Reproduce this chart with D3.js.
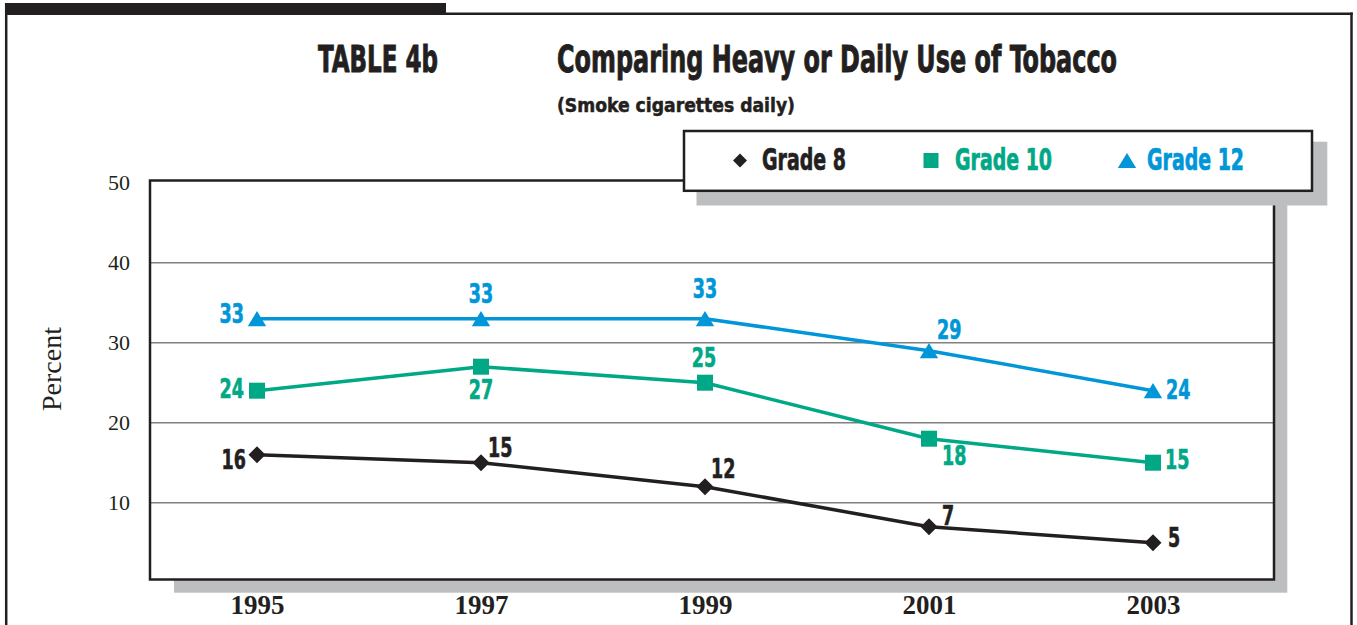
<!DOCTYPE html>
<html>
<head>
<meta charset="utf-8">
<script src="https://cdn.jsdelivr.net/npm/d3@7"></script>
<style>
  html, body { margin: 0; padding: 0; background: #ffffff; }
  svg { display: block; }
  .heavy { font-family: "Liberation Sans Narrow", "DejaVu Sans Condensed", "Roboto", sans-serif; font-weight: bold; }
  .serif { font-family: "Liberation Serif", "DejaVu Serif", serif; }
</style>
</head>
<body>
<svg id="chart" width="1357" height="625"></svg>
<script>
// ---- data ----
const years = ["1995", "1997", "1999", "2001", "2003"];
const grade8 = [16, 15, 12, 7, 5];
const grade10 = [24, 27, 25, 18, 15];
const grade12 = [33, 33, 33, 29, 24];
const seriesNames = ["Grade 8", "Grade 10", "Grade 12"];
const yTicks = [10, 20, 30, 40, 50];

// ---- styling ----
const INK = "#231f20";
const GREEN = "#00a886";
const BLUE = "#0096d8";
const SHADOW = "#bcbec0";
const GRID = "#808080";

const series = [
  { name: seriesNames[0], values: grade8, color: INK, shape: "diamond" },
  { name: seriesNames[1], values: grade10, color: GREEN, shape: "square" },
  { name: seriesNames[2], values: grade12, color: BLUE, shape: "triangle" }
];

// label placement per point: [dx, dy, anchor]
const labelPlacement = [
  [[-11, 14.6, "end"], [7, -6, "start"], [6, -8.7, "start"], [13, -1.7, "start"], [15, 4, "start"]],
  [[-13, 7.3, "end"], [0, 32, "middle"], [-1, -16, "middle"], [13, 26.3, "start"], [12, 6.5, "start"]],
  [[-13, 4, "end"], [0, -15.4, "middle"], [0, -20.4, "middle"], [8, -11.4, "start"], [13, 8.3, "start"]]
];

const svg = d3.select("#chart");

// ---- plot frame geometry ----
const frame = { left: 150, top: 180.5, right: 1274, bottom: 579.5 };

const x = d3.scalePoint().domain(years).range([257, 1153]);
const y = d3.scaleLinear().domain([0, 50]).range([582.7, 182.7]);

// marker shapes
function markerPath(shape, s) {
  if (shape === "diamond") {
    const r = s / 2;
    return `M0,${-r}L${r},0L0,${r}L${-r},0Z`;
  }
  if (shape === "square") {
    const h = s / 2;
    return `M${-h},${-h}H${h}V${h}H${-h}Z`;
  }
  const w = s * 1.15 / 2, h = s * 0.95 / 2;
  return `M0,${-h}L${w},${h}L${-w},${h}Z`;
}

// ---- page border ----
svg.append("rect").attr("x", 5).attr("y", 3).attr("width", 441).attr("height", 12).attr("fill", INK);
svg.append("line").attr("x1", 446).attr("x2", 1352.8).attr("y1", 13.7).attr("y2", 13.7)
  .attr("stroke", INK).attr("stroke-width", 2.5);
svg.append("line").attr("x1", 6.2).attr("x2", 6.2).attr("y1", 3).attr("y2", 625)
  .attr("stroke", INK).attr("stroke-width", 2.5);
svg.append("line").attr("x1", 1351.5).attr("x2", 1351.5).attr("y1", 12.5).attr("y2", 625)
  .attr("stroke", INK).attr("stroke-width", 2.5);

// ---- titles ----
svg.append("text").attr("class", "heavy").attr("x", 318).attr("y", 71.7)
  .attr("font-size", 38).attr("fill", INK).attr("stroke", INK).attr("stroke-width", 0.9)
  .attr("textLength", 120).attr("lengthAdjust", "spacingAndGlyphs").text("TABLE 4b");
svg.append("text").attr("class", "heavy").attr("x", 557).attr("y", 71.7)
  .attr("font-size", 38).attr("fill", INK).attr("stroke", INK).attr("stroke-width", 0.9)
  .attr("textLength", 560).attr("lengthAdjust", "spacingAndGlyphs")
  .text("Comparing Heavy or Daily Use of Tobacco");
svg.append("text").attr("class", "heavy").attr("x", 557).attr("y", 111.7)
  .attr("font-size", 20).attr("fill", INK).attr("stroke", INK).attr("stroke-width", 0.5)
  .attr("textLength", 238).attr("lengthAdjust", "spacingAndGlyphs")
  .text("(Smoke cigarettes daily)");

// ---- plot shadow + frame ----
svg.append("rect").attr("x", 174).attr("y", 194)
  .attr("width", 1287.3 - 174).attr("height", 592.7 - 194).attr("fill", SHADOW);
svg.append("rect").attr("x", frame.left).attr("y", frame.top)
  .attr("width", frame.right - frame.left).attr("height", frame.bottom - frame.top)
  .attr("fill", "#ffffff");

// gridlines
svg.append("g").selectAll("line")
  .data(yTicks.filter(t => t < 50))
  .join("line")
  .attr("x1", frame.left).attr("x2", frame.right)
  .attr("y1", d => y(d)).attr("y2", d => y(d))
  .attr("stroke", GRID).attr("stroke-width", 1.5);

svg.append("rect").attr("x", frame.left).attr("y", frame.top)
  .attr("width", frame.right - frame.left).attr("height", frame.bottom - frame.top)
  .attr("fill", "none").attr("stroke", INK).attr("stroke-width", 2.5);

// ---- y axis labels ----
const yAxis = d3.axisLeft(y).tickValues(yTicks).tickSize(0).tickPadding(0);
const gy = svg.append("g").attr("transform", "translate(130,0)").call(yAxis);
gy.select(".domain").remove();
gy.selectAll("text").attr("class", "serif").attr("font-size", 22).attr("fill", INK)
  .attr("dy", "0.3em").style("font-family", "'Liberation Serif', serif");

svg.append("text").attr("class", "serif")
  .attr("transform", "translate(61,369) rotate(-90)")
  .attr("text-anchor", "middle").attr("font-size", 28).attr("fill", INK)
  .text("Percent");

// ---- x axis labels ----
const xAxis = d3.axisBottom(x).tickSize(0).tickPadding(0);
const gx = svg.append("g").attr("transform", "translate(0,594)").call(xAxis);
gx.select(".domain").remove();
gx.selectAll("text").attr("font-size", 27).attr("font-weight", "bold").attr("fill", INK)
  .attr("dy", "0.74em").style("font-family", "'Liberation Serif', serif");

// ---- series ----
const line = d3.line().x((d, i) => x(years[i])).y(d => y(d));

series.forEach((s, si) => {
  const g = svg.append("g");
  g.append("path").datum(s.values)
    .attr("d", line).attr("fill", "none")
    .attr("stroke", s.color).attr("stroke-width", 3.5).attr("stroke-linejoin", "round");

  const markerSize = s.shape === "diamond" ? 17 : 16;
  g.selectAll("path.mark").data(s.values).join("path")
    .attr("class", "mark")
    .attr("transform", (d, i) => `translate(${x(years[i])},${y(d)})`)
    .attr("d", markerPath(s.shape, markerSize))
    .attr("fill", s.color);

  g.selectAll("text").data(s.values).join("text")
    .attr("class", "heavy")
    .attr("x", (d, i) => x(years[i]) + labelPlacement[si][i][0])
    .attr("y", (d, i) => y(d) + labelPlacement[si][i][1])
    .attr("text-anchor", (d, i) => labelPlacement[si][i][2])
    .attr("font-size", 26).attr("fill", s.color)
    .attr("stroke", s.color).attr("stroke-width", 0.6)
    .attr("textLength", d => String(d).length * 12.2)
    .attr("lengthAdjust", "spacingAndGlyphs")
    .text(d => d);
});

// ---- legend ----
svg.append("rect").attr("x", 696.5).attr("y", 141.7)
  .attr("width", 1327.3 - 696.5).attr("height", 205.5 - 141.7).attr("fill", SHADOW);
svg.append("rect").attr("x", 684).attr("y", 131)
  .attr("width", 1312 - 684).attr("height", 190.8 - 131)
  .attr("fill", "#ffffff").attr("stroke", INK).attr("stroke-width", 2.5);

const legendItems = [
  { marker: 740, text: 762, width: 84, size: 14 },
  { marker: 931, text: 955, width: 97, size: 15 },
  { marker: 1127, text: 1147, width: 97, size: 16 }
];
series.forEach((s, i) => {
  const li = legendItems[i];
  svg.append("path")
    .attr("transform", `translate(${li.marker},160.5)`)
    .attr("d", markerPath(s.shape, li.size))
    .attr("fill", s.color);
  svg.append("text").attr("class", "heavy")
    .attr("x", li.text).attr("y", 170)
    .attr("font-size", 30).attr("fill", s.color)
    .attr("stroke", s.color).attr("stroke-width", 0.7)
    .attr("textLength", li.width).attr("lengthAdjust", "spacingAndGlyphs")
    .text(s.name);
});
</script>
</body>
</html>
